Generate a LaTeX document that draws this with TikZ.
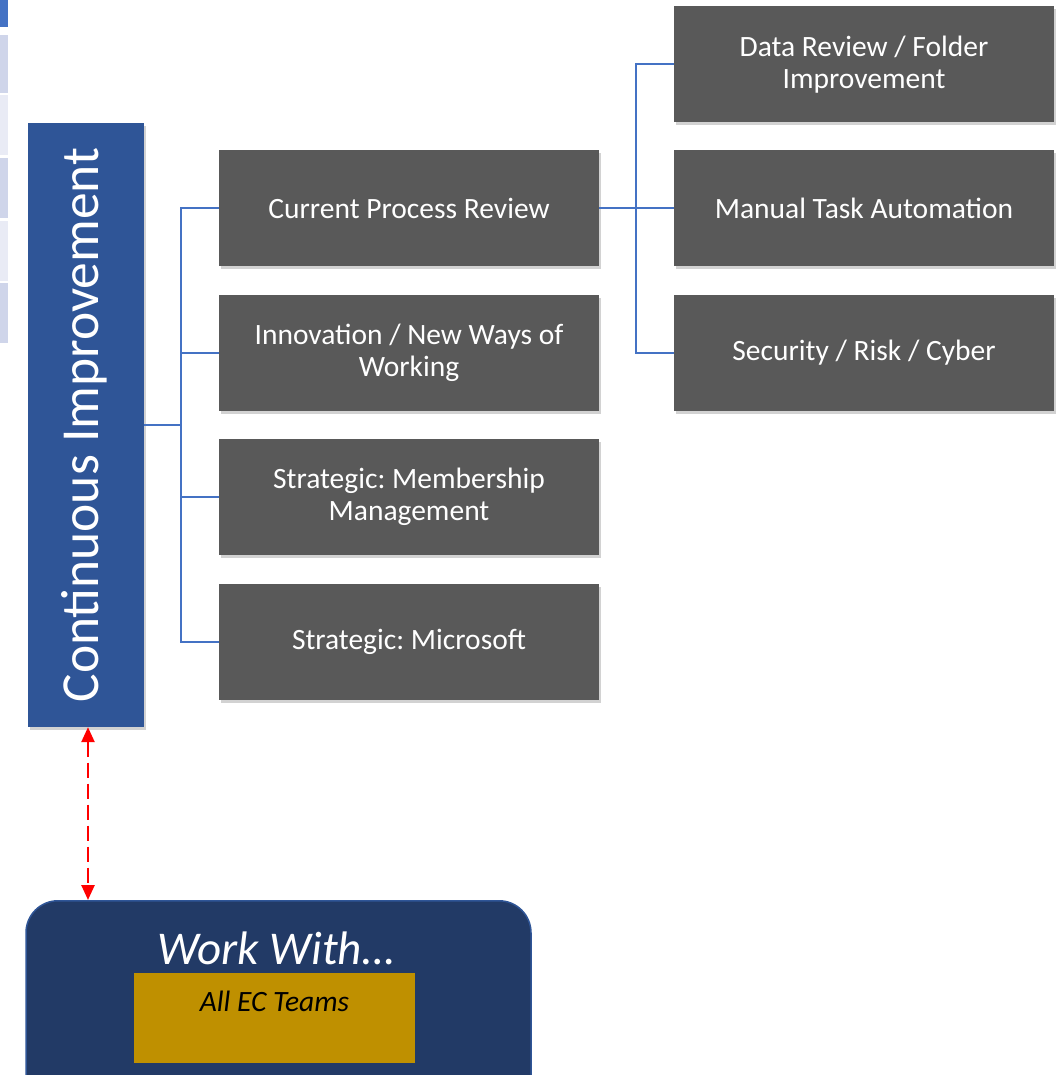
\documentclass[tikz,border=0pt]{standalone}
\usepackage{fontspec}
\setmainfont{Carlito}
\frenchspacing
\usetikzlibrary{shadows,arrows.meta}
\definecolor{boxgray}{HTML}{595959}
\definecolor{ciblue}{HTML}{2F5597}
\definecolor{linkblue}{HTML}{4472C4}
\definecolor{navy}{HTML}{223A66}
\definecolor{gold}{HTML}{BF9000}
\definecolor{stripA}{HTML}{4472C4}
\definecolor{stripB}{HTML}{CFD5EA}
\definecolor{stripC}{HTML}{E9EBF5}
\tikzset{
  softshadow/.style={drop shadow={opacity=0.35,shadow xshift=2pt,shadow yshift=-3pt}},
  graybox/.style={fill=boxgray,draw=none,minimum width=380pt,minimum height=116pt,
     text=white,font=\fontsize{29.5}{32}\selectfont,align=center,inner sep=0pt,softshadow},
  link/.style={draw=linkblue,line width=2pt},
  strip/.style={draw=none,inner sep=0pt,minimum width=8pt,anchor=north west}
}
\begin{document}
\begin{tikzpicture}[x=1pt,y=-1pt]
\useasboundingbox (0,0) rectangle (1058,1075);
\clip (0,0) rectangle (1058,1075);
\fill[white] (0,0) rectangle (1058,1075);
% left strip (cut-off table)
\node[strip,fill=stripA,minimum height=27pt] (s0) at (0,0) {};
\node[strip,fill=stripB,minimum height=58pt] (s1) at (0,35) {};
\node[strip,fill=stripC,minimum height=60pt] (s2) at (0,95) {};
\node[strip,fill=stripB,minimum height=60pt] (s3) at (0,158) {};
\node[strip,fill=stripC,minimum height=60pt] (s4) at (0,221) {};
\node[strip,fill=stripB,minimum height=60pt] (s5) at (0,283) {};
% main vertical box
\node[fill=ciblue,minimum width=116pt,minimum height=604pt,inner sep=0pt,softshadow] (ci) at (86,425) {};
\node[rotate=90,text=white,font=\fontsize{53.5}{60}\selectfont] (cit) at ([xshift=-2pt]ci.center) {Continuous Improvement};
% level 2
\node[graybox] (b1) at (409,208) {Current Process Review};
\node[graybox] (b2) at (409,353) {Innovation / New Ways of\\Working};
\node[graybox] (b3) at (409,497) {Strategic: Membership\\Management};
\node[graybox] (b4) at (409,642) {Strategic: Microsoft};
% level 3
\node[graybox] (c1) at (864,64.5) {Data Review / Folder\\Improvement};
\node[graybox] (c2) at (864,208) {Manual Task Automation};
\node[graybox] (c3) at (864,353) {Security / Risk / Cyber};
% connectors
\coordinate (j1) at (181,425);
\draw[link] (ci.east) -- (j1);
\draw[link] (j1) |- (b1.west);
\draw[link] (j1) |- (b2.west);
\draw[link] (j1) |- (b3.west);
\draw[link] (j1) |- (b4.west);
\coordinate (j2) at (636,208);
\draw[link] (b1.east) -- (j2);
\draw[link] (j2) |- (c1.west);
\draw[link] (j2) -- (c2.west);
\draw[link] (j2) |- (c3.west);
% work with box
\node[fill=navy,draw=ciblue,line width=1.5pt,rounded corners=32pt,minimum width=505pt,minimum height=220pt,anchor=north,inner sep=0pt] (ww) at (278.5,900) {};
\node[text=white,font=\fontsize{47}{52}\itshape\selectfont,anchor=center] (wwt) at (276,948) {Work With…};
\node[fill=gold,minimum width=281pt,minimum height=90pt,inner sep=0pt] (ec) at (274.5,1018) {};
\node[text=black,font=\fontsize{29.5}{32}\itshape\selectfont] (ect) at (274.5,1001) {All EC Teams};
% red dashed arrow
\draw[red,line width=2.5pt,dash pattern=on 15pt off 6pt,{Triangle[length=15pt,width=13pt]}-{Triangle[length=15pt,width=13pt]}] ([xshift=2pt]ci.south) -- ([xshift=2pt]ci.south |- ww.north);
\end{tikzpicture}
\end{document}
